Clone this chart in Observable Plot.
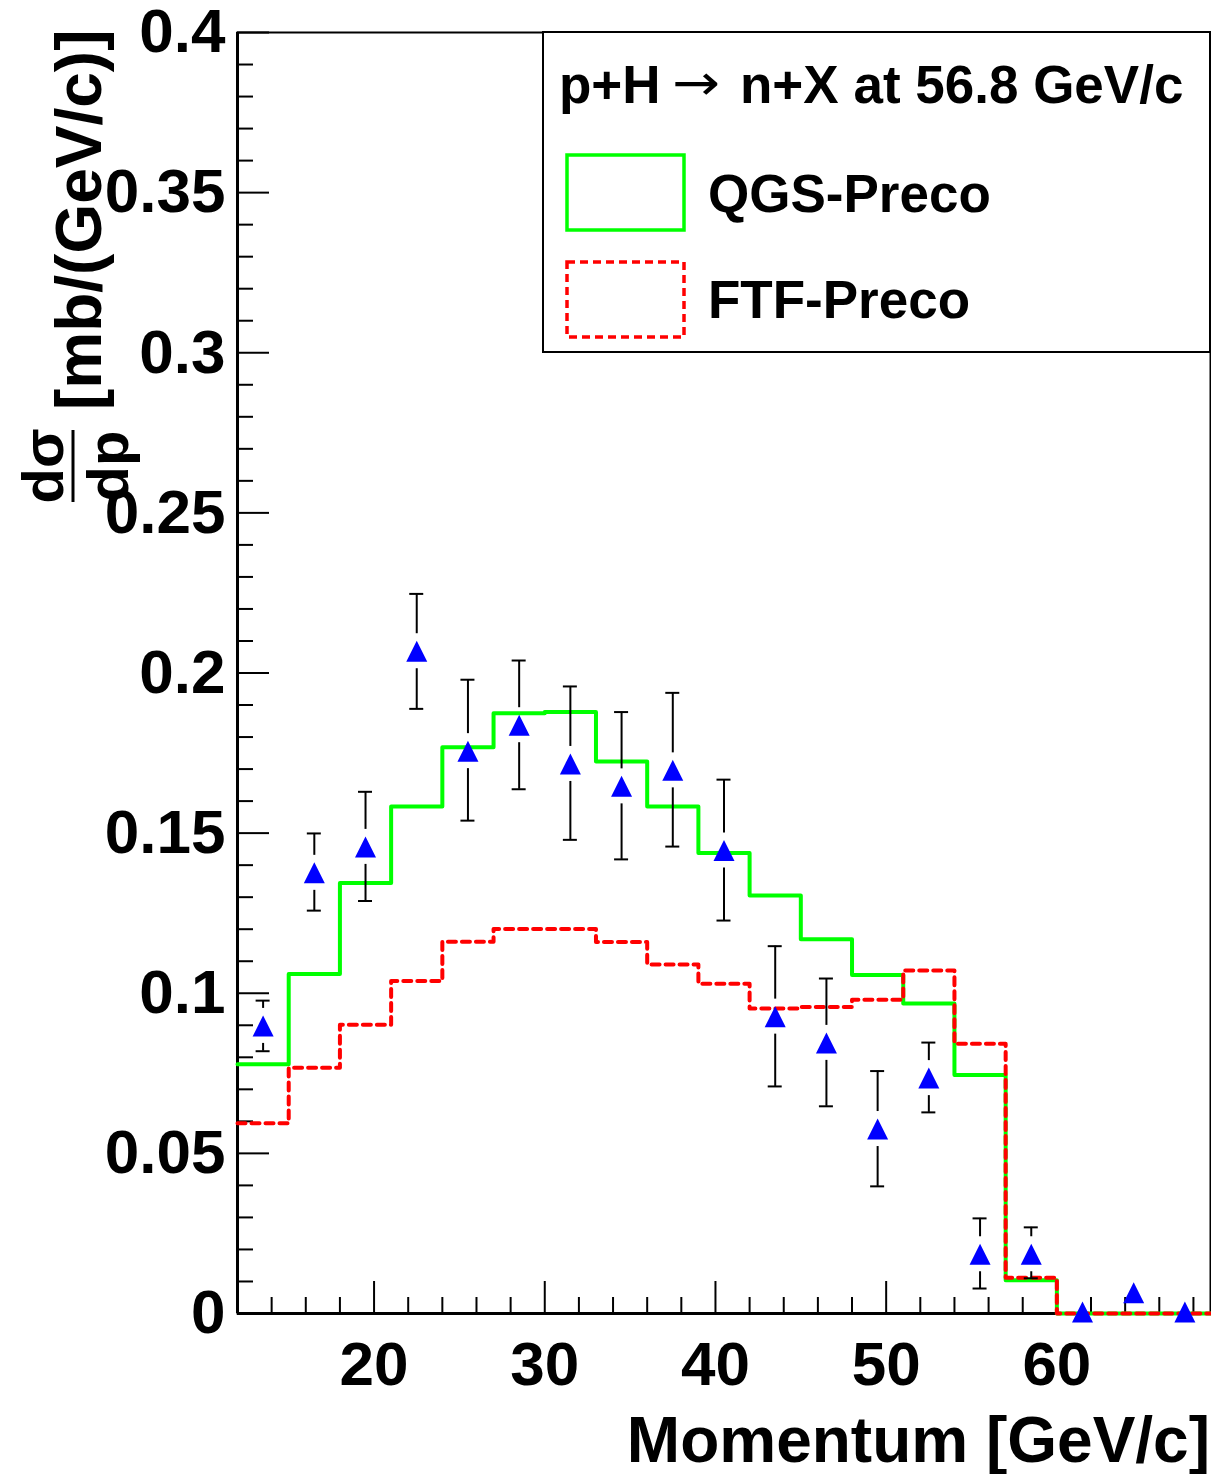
<!DOCTYPE html>
<html>
<head>
<meta charset="utf-8">
<script src="https://cdn.jsdelivr.net/npm/d3@7"></script>
<script src="https://cdn.jsdelivr.net/npm/@observablehq/plot@0.6"></script>
<style>
  body { margin: 0; background: white; }
  #chart svg { display: block; }
</style>
</head>
<body>
<div id="chart"></div>
<script>
// ---- data ----
const binEdges = [12, 15, 18, 21, 24, 27, 30, 33, 36, 39, 42, 45, 48, 51, 54, 57, 60, 63, 66, 69];
const qgsPreco = [0.0778, 0.1060, 0.1344, 0.1583, 0.1768, 0.1874, 0.1878, 0.1724, 0.1583, 0.1438,
                  0.1305, 0.1169, 0.1057, 0.0968, 0.0745, 0.0104, 0, 0, 0];
const ftfPreco = [0.0594, 0.0767, 0.0902, 0.1038, 0.1161, 0.1201, 0.1201, 0.1160, 0.1090, 0.1030,
                  0.0952, 0.0957, 0.0980, 0.1071, 0.0842, 0.0112, 0, 0, 0];
const dataP   = [13.5, 16.5, 19.5, 22.5, 25.5, 28.5, 31.5, 34.5, 37.5, 40.5,
                 43.5, 46.5, 49.5, 52.5, 55.5, 58.5, 61.5, 64.5, 67.5];
const dataVal = [0.0898, 0.1376, 0.1457, 0.2068, 0.1756, 0.1837, 0.1716, 0.1646, 0.1696, 0.1446,
                 0.0927, 0.0845, 0.0576, 0.0735, 0.0185, 0.0185, 0.0005, 0.0065, 0.0005];
const dataHi  = [0.0977, 0.1499, 0.1629, 0.2247, 0.1979, 0.2039, 0.1958, 0.1878, 0.1938, 0.1667,
                 0.1147, 0.1046, 0.0757, 0.0846, 0.0297, 0.0269, 0.0015, 0.0075, 0.0015];
const dataLo  = [0.0819, 0.1258, 0.1288, 0.1888, 0.1539, 0.1637, 0.1479, 0.1418, 0.1458, 0.1227,
                 0.0709, 0.0647, 0.0397, 0.0628, 0.0078, 0.0110, 0.0000, 0.0055, 0.0000];
const xMajorTicks = [20, 30, 40, 50, 60];
const xTickLabels = ["20", "30", "40", "50", "60"];
const xMinorTicks = [14, 16, 18, 22, 24, 26, 28, 32, 34, 36, 38, 42, 44, 46, 48, 52, 54, 56, 58, 62, 64, 66, 68];
const yMajorTicks = [0, 0.05, 0.1, 0.15, 0.2, 0.25, 0.3, 0.35, 0.4];
const yTickLabels = ["0", "0.05", "0.1", "0.15", "0.2", "0.25", "0.3", "0.35", "0.4"];
const yMinorTicks = [0.01,0.02,0.03,0.04,0.06,0.07,0.08,0.09,0.11,0.12,0.13,0.14,0.16,0.17,0.18,0.19,
                     0.21,0.22,0.23,0.24,0.26,0.27,0.28,0.29,0.31,0.32,0.33,0.34,0.36,0.37,0.38,0.39];
const legendTitle = ["p+H", "\u2192", "n+X at 56.8 GeV/c"];
const seriesNames = ["QGS-Preco", "FTF-Preco"];
const xTitle = "Momentum [GeV/c]";

// ---- layout / style ----
const W = 1211, H = 1474;
const mL = 237, mR = 1, mT = 32, mB = 161;
const xDom = [12, 69], yDom = [0, 0.4];
const pxPerX = (W - mL - mR) / (xDom[1] - xDom[0]);
const pxPerY = (H - mT - mB) / (yDom[1] - yDom[0]);
const majorLenX = 32 / pxPerX, minorLenX = 16 / pxPerX;   // y-axis ticks (length along x)
const majorLenY = 32 / pxPerY, minorLenY = 16 / pxPerY;   // x-axis ticks (length along y)
const gap = 17.5 / pxPerY;      // gap of error bar around marker
const capHalf = 7 / pxPerX;     // half width of error-bar caps
const FONT = "'Liberation Sans', Arial, Helvetica, sans-serif";

const steps = arr => binEdges.map((e, i) => ({x: e, y: arr[Math.min(i, arr.length - 1)]}));
const pts = dataP.map((p, i) => ({x: p, y: dataVal[i], hi: dataHi[i], lo: dataLo[i]}));
const upper = pts.filter(d => d.hi > d.y + gap);
const lower = pts.filter(d => d.lo < d.y - gap);

const rootTriangle = {
  draw(context, size) {
    const s = Math.sqrt(size / Math.PI);
    context.moveTo(0, -s);
    context.lineTo(s, s);
    context.lineTo(-s, s);
    context.closePath();
  }
};

const plot = Plot.plot({
  width: W, height: H,
  marginLeft: mL, marginRight: mR, marginTop: mT, marginBottom: mB,
  x: {domain: xDom, axis: null},
  y: {domain: yDom, axis: null},
  style: {background: "white", fontFamily: FONT, overflow: "visible"},
  marks: [
    Plot.frame({stroke: "black", strokeWidth: 2}),
    // y ticks
    Plot.ruleY(yMajorTicks, {y: d => d, x1: xDom[0], x2: xDom[0] + majorLenX, stroke: "black", strokeWidth: 2}),
    Plot.ruleY(yMinorTicks, {y: d => d, x1: xDom[0], x2: xDom[0] + minorLenX, stroke: "black", strokeWidth: 2}),
    // x ticks
    Plot.ruleX(xMajorTicks, {x: d => d, y1: 0, y2: majorLenY, stroke: "black", strokeWidth: 2}),
    Plot.ruleX(xMinorTicks, {x: d => d, y1: 0, y2: minorLenY, stroke: "black", strokeWidth: 2}),
    // axis lines
    Plot.ruleX([xDom[0]], {stroke: "black", strokeWidth: 3}),
    Plot.ruleY([0], {stroke: "black", strokeWidth: 3}),
    // tick labels
    Plot.text(yMajorTicks, {x: xDom[0], y: d => d, text: (d, i) => yTickLabels[i], textAnchor: "end", dx: -12,
      fontSize: 62, fontWeight: "bold", fill: "black"}),
    Plot.text(xMajorTicks, {x: d => d, y: 0, text: (d, i) => xTickLabels[i], dy: 52,
      fontSize: 62, fontWeight: "bold", fill: "black"}),
    // model histograms
    Plot.line(steps(qgsPreco), {x: "x", y: "y", curve: "step-after", stroke: "#00ff00", strokeWidth: 4}),
    Plot.line(steps(ftfPreco), {x: "x", y: "y", curve: "step-after", stroke: "#ff0000", strokeWidth: 4,
      strokeDasharray: "8,6"}),
    // error bars
    Plot.ruleX(upper, {x: "x", y1: "hi", y2: d => d.y + gap, stroke: "black", strokeWidth: 2}),
    Plot.ruleX(lower, {x: "x", y1: d => d.y - gap, y2: "lo", stroke: "black", strokeWidth: 2}),
    Plot.ruleY(upper, {y: "hi", x1: d => d.x - capHalf, x2: d => d.x + capHalf, stroke: "black", strokeWidth: 2}),
    Plot.ruleY(lower, {y: "lo", x1: d => d.x - capHalf, x2: d => d.x + capHalf, stroke: "black", strokeWidth: 2}),
    // data points
    Plot.dot(pts, {x: "x", y: "y", symbol: rootTriangle, r: 10.5, fill: "#0000ff", stroke: "none"})
  ]
});

const svg = d3.select(plot);

// x-axis title
svg.append("text").attr("x", 1210).attr("y", 1462).attr("text-anchor", "end")
  .attr("font-family", FONT).attr("font-weight", "bold").attr("font-size", 64).text(xTitle);

// y-axis title: d sigma / dp [mb/(GeV/c)]
const yt = svg.append("g").attr("font-family", FONT).attr("font-weight", "bold").attr("fill", "black");
yt.append("text").attr("transform", "translate(101,410) rotate(-90)").attr("text-anchor", "start")
  .attr("font-size", 64).text("[mb/(GeV/c)]");
yt.append("text").attr("transform", "translate(63,466) rotate(-90)").attr("text-anchor", "middle")
  .attr("font-size", 58).text("d\u03C3");
yt.append("line").attr("x1", 73).attr("x2", 73).attr("y1", 430).attr("y2", 502)
  .attr("stroke", "black").attr("stroke-width", 3);
yt.append("text").attr("transform", "translate(128,466) rotate(-90)").attr("text-anchor", "middle")
  .attr("font-size", 58).text("dp");

// legend
const lg = svg.append("g").attr("font-family", FONT).attr("font-weight", "bold").attr("fill", "black")
  .attr("text-anchor", "start");
lg.append("rect").attr("x", 543).attr("y", 32).attr("width", 667).attr("height", 320)
  .attr("fill", "white").attr("stroke", "black").attr("stroke-width", 2);
lg.append("text").attr("x", 559).attr("y", 103).attr("font-size", 53).text(legendTitle[0]);
lg.append("text").attr("x", 672).attr("y", 100).attr("font-size", 50).attr("font-weight", "normal")
  .attr("font-family", "'DejaVu Sans', sans-serif").attr("textLength", 48)
  .attr("lengthAdjust", "spacingAndGlyphs").text(legendTitle[1]);
lg.append("text").attr("x", 740).attr("y", 103).attr("font-size", 53).text(legendTitle[2]);
lg.append("rect").attr("x", 567).attr("y", 155).attr("width", 117).attr("height", 75)
  .attr("fill", "none").attr("stroke", "#00ff00").attr("stroke-width", 3.5);
lg.append("text").attr("x", 708).attr("y", 212).attr("font-size", 53).text(seriesNames[0]);
lg.append("rect").attr("x", 567).attr("y", 262).attr("width", 117).attr("height", 75)
  .attr("fill", "none").attr("stroke", "#ff0000").attr("stroke-width", 3.5).attr("stroke-dasharray", "8,5");
lg.append("text").attr("x", 708).attr("y", 318).attr("font-size", 53).text(seriesNames[1]);

document.getElementById("chart").appendChild(plot);
</script>
</body>
</html>
